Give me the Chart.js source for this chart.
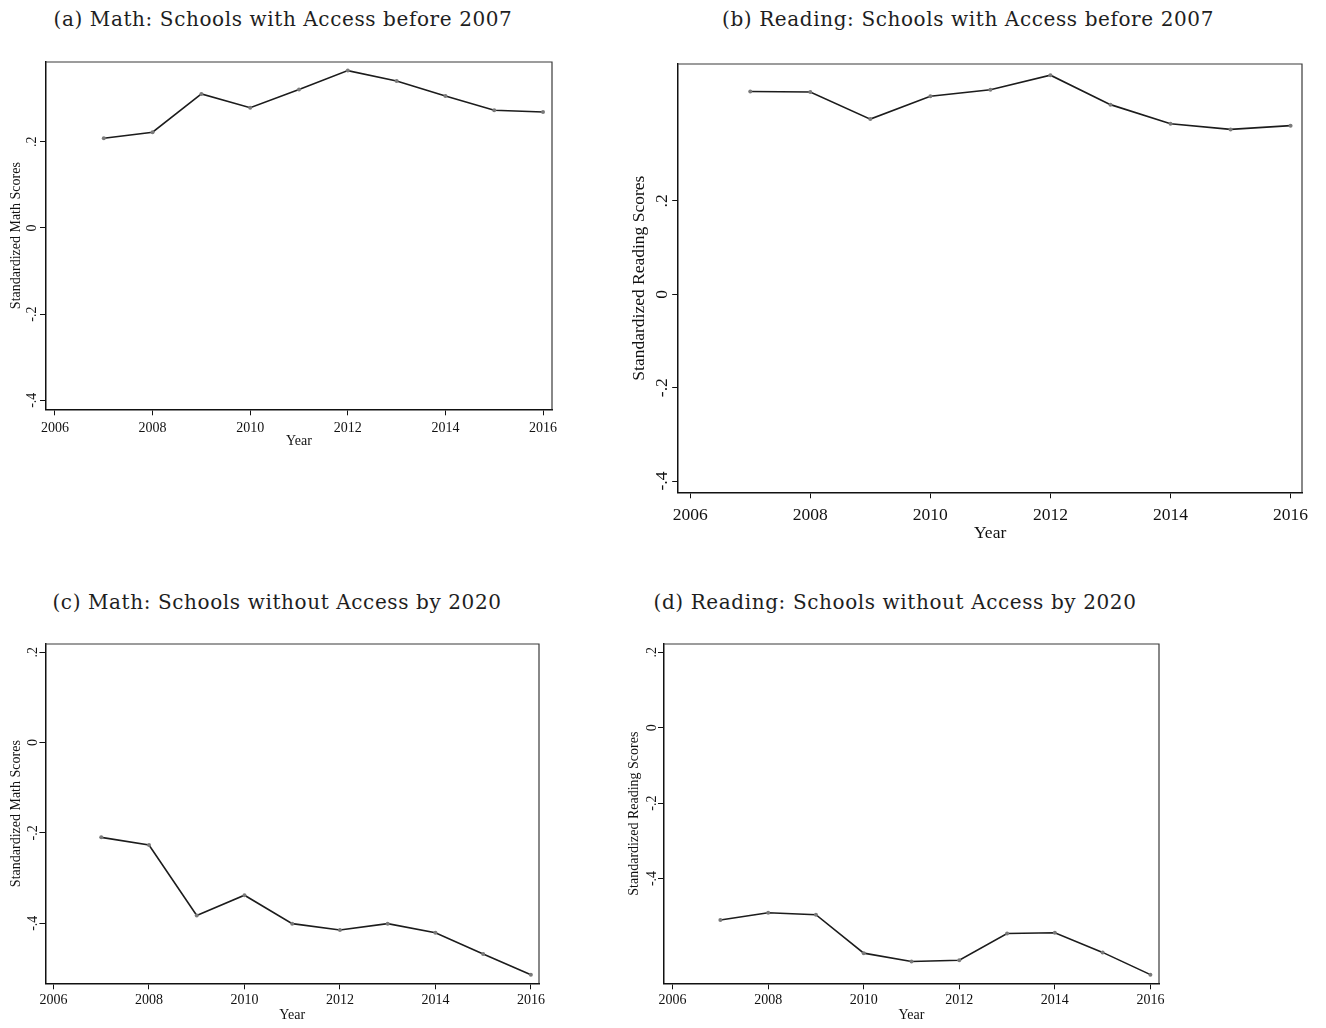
<!DOCTYPE html>
<html>
<head>
<meta charset="utf-8">
<script src="https://cdn.jsdelivr.net/npm/chart.js@4.4.0/dist/chart.umd.min.js"></script>
<style>
  body { margin: 0; background: #fff; width: 1326px; height: 1028px; position: relative; overflow: hidden; }
  .title { position: absolute; font-family: "DejaVu Serif", serif; font-size: 20px; letter-spacing: 0.6px; color: #1e1e1e; white-space: nowrap; transform: translate(-50%, -50%); }
  canvas { position: absolute; }
</style>
</head>
<body>
<div class="title" style="left:283px; top:19px">(a) Math: Schools with Access before 2007</div>
<div class="title" style="left:968px; top:19px">(b) Reading: Schools with Access before 2007</div>
<div class="title" style="left:277px; top:602px">(c) Math: Schools without Access by 2020</div>
<div class="title" style="left:895px; top:602px">(d) Reading: Schools without Access by 2020</div>
<canvas id="ca"></canvas>
<canvas id="cb"></canvas>
<canvas id="cc"></canvas>
<canvas id="cd"></canvas>
<script>
// data
const years = [2007, 2008, 2009, 2010, 2011, 2012, 2013, 2014, 2015, 2016];
const xTicks = [2006, 2008, 2010, 2012, 2014, 2016];
const yTicks = [-0.4, -0.2, 0, 0.2];
const mathBefore2007 = [0.208, 0.222, 0.311, 0.279, 0.321, 0.365, 0.341, 0.306, 0.273, 0.269];
const readingBefore2007 = [0.434, 0.433, 0.375, 0.424, 0.438, 0.469, 0.406, 0.365, 0.353, 0.361];
const mathWithout2020 = [-0.210, -0.227, -0.383, -0.338, -0.401, -0.415, -0.401, -0.421, -0.468, -0.514];
const readingWithout2020 = [-0.510, -0.491, -0.496, -0.598, -0.620, -0.617, -0.546, -0.544, -0.596, -0.655];

const FONT = '"Liberation Serif", "Times New Roman", serif';

// where each plot box sits on the page
const panels = [
  { id: 'ca', values: mathBefore2007, yTitle: 'Standardized Math Scores', box: [46, 61.7, 552, 409.3],
    xr: [2005.816, 2016.184], yr: [-0.421, 0.385], fs: 14, yTitleX: 16, yTickX: 32, xTickY: 427.5, xTitleY: 441.7 },
  { id: 'cb', values: readingBefore2007, yTitle: 'Standardized Reading Scores', box: [678.2, 64.3, 1301.4, 492.3],
    xr: [2005.8, 2016.19], yr: [-0.424, 0.493], fs: 17.5, yTitleX: 639, yTickX: 662.5, xTickY: 515, xTitleY: 533 },
  { id: 'cc', values: mathWithout2020, yTitle: 'Standardized Math Scores', box: [45.4, 644, 539, 983.3],
    xr: [2005.83, 2016.17], yr: [-0.533, 0.218], fs: 14, yTitleX: 16, yTickX: 33, xTickY: 1000, xTitleY: 1015 },
  { id: 'cd', values: readingWithout2020, yTitle: 'Standardized Reading Scores', box: [664, 644, 1158.6, 983.3],
    xr: [2005.82, 2016.18], yr: [-0.678, 0.222], fs: 14, yTitleX: 634, yTickX: 652, xTickY: 1000, xTitleY: 1015 }
];

function stataLabel(v) {
  const s = Number(v).toFixed(1);
  if (s === '0.0' || s === '-0.0') return '0';
  return s.replace('0.', '.');
}

// top and right sides of the plot frame
const framePlugin = {
  id: 'frame',
  afterDraw(chart) {
    const { ctx, chartArea: a } = chart;
    ctx.save();
    ctx.strokeStyle = '#3a3a3a';
    ctx.lineWidth = 1.2;
    ctx.beginPath();
    ctx.moveTo(a.left, a.top);
    ctx.lineTo(a.right, a.top);
    ctx.lineTo(a.right, a.bottom);
    ctx.stroke();
    ctx.restore();
  }
};

const measure = document.createElement('canvas').getContext('2d');

panels.forEach(p => {
  const [L, T, R, B] = p.box;
  const tl = 6;
  const lh = p.fs * 1.2;
  const contL = Math.floor(p.yTitleX - lh / 2 - 2);
  const yTitlePad = p.yTitleX - lh / 2 - contL;
  const padTop = 20, padRight = 20;
  const contT = Math.round(T) - padTop;
  const contB = Math.ceil(p.xTitleY + lh / 2 + 2);
  const width = Math.ceil(R) + padRight - contL;
  const height = contB - contT;
  const yAxisW = L - contL;
  const xAxisH = contB - B;
  const xTitlePad = contB - p.xTitleY - lh / 2;

  measure.font = p.fs + 'px ' + FONT;
  const widest = Math.max(...yTicks.map(v => measure.measureText(stataLabel(v)).width));
  const yTickPad = L - tl - widest / 2 - p.yTickX;
  const xTickPad = p.xTickY - 0.56 * p.fs - B - tl;

  const cv = document.getElementById(p.id);
  cv.width = width;
  cv.height = height;
  cv.style.left = contL + 'px';
  cv.style.top = contT + 'px';
  cv.style.width = width + 'px';
  cv.style.height = height + 'px';

  const font = { family: FONT, size: p.fs };

  new Chart(cv, {
    type: 'line',
    data: {
      datasets: [{
        data: years.map((x, i) => ({ x: x, y: p.values[i] })),
        borderColor: '#1c1c1c',
        borderWidth: 1.6,
        pointRadius: 2,
        pointBackgroundColor: '#7a7a7a',
        pointBorderWidth: 0,
        tension: 0
      }]
    },
    options: {
      responsive: false,
      animation: false,
      layout: { padding: { top: padTop, right: padRight, left: 0, bottom: 0 } },
      plugins: { legend: { display: false }, tooltip: { enabled: false } },
      scales: {
        x: {
          type: 'linear',
          min: p.xr[0],
          max: p.xr[1],
          afterBuildTicks: s => { s.ticks = xTicks.map(v => ({ value: v })); },
          afterFit: s => { s.height = xAxisH; },
          ticks: { font: font, color: '#111', padding: xTickPad, maxRotation: 0, autoSkip: false,
                   callback: v => String(v) },
          grid: { drawOnChartArea: false, drawTicks: true, tickLength: tl, color: '#111', lineWidth: 1 },
          border: { display: true, color: '#111', width: 1.5 },
          title: { display: true, text: 'Year', font: font, color: '#111', padding: { top: 0, bottom: xTitlePad } }
        },
        y: {
          min: p.yr[0],
          max: p.yr[1],
          afterBuildTicks: s => { s.ticks = yTicks.map(v => ({ value: v })); },
          afterFit: s => { s.width = yAxisW; },
          ticks: { font: font, color: '#111', padding: yTickPad, minRotation: 90, maxRotation: 90,
                   crossAlign: 'center', autoSkip: false, callback: v => stataLabel(v) },
          grid: { drawOnChartArea: false, drawTicks: true, tickLength: tl, color: '#111', lineWidth: 1 },
          border: { display: true, color: '#111', width: 1.5 },
          title: { display: true, text: p.yTitle, font: font, color: '#111', padding: { top: yTitlePad, bottom: 0 } }
        }
      }
    },
    plugins: [framePlugin]
  });
});
</script>
</body>
</html>
